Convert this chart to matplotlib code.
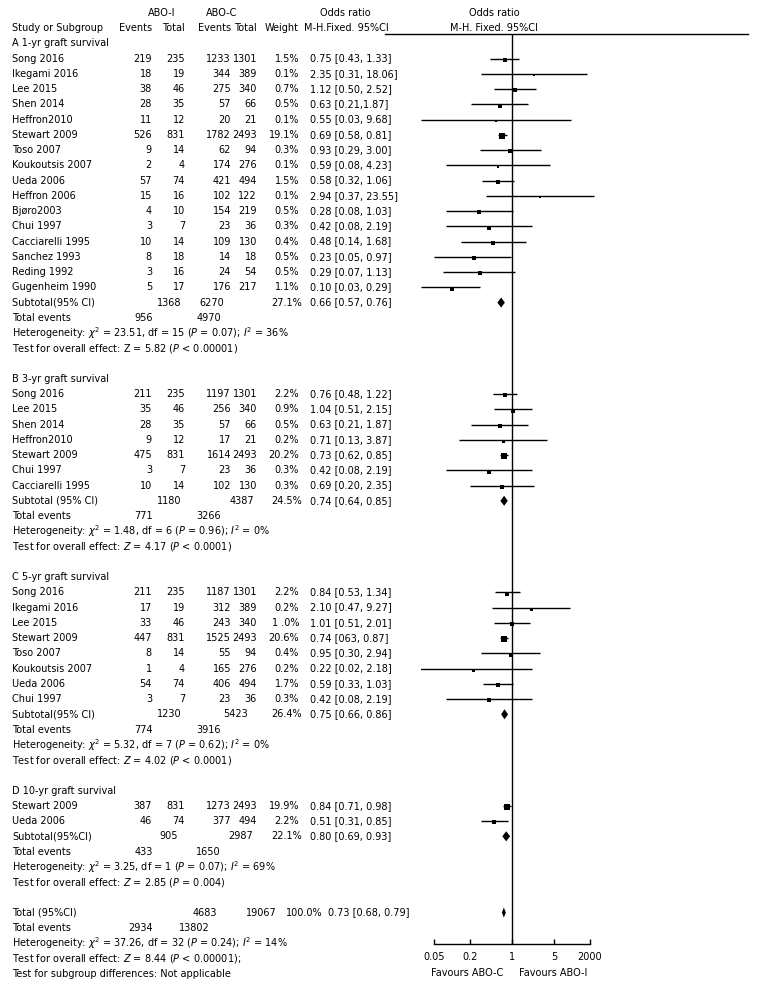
"""
Forest plot: ABO-incompatible vs ABO-compatible graft survival
"""

import matplotlib

matplotlib.use("Agg")
import matplotlib.pyplot as plt
from matplotlib.lines import Line2D
from matplotlib.ticker import NullLocator
from matplotlib.transforms import blended_transform_factory

plt.rcParams["font.family"] = ["DejaVu Sans"]
plt.rcParams["mathtext.fontset"] = "dejavusans"
FS = 7.0

# ---- A 1-yr graft survival ----
a_names = ["Song 2016", "Ikegami 2016", "Lee 2015", "Shen 2014", "Heffron2010",
           "Stewart 2009", "Toso 2007", "Koukoutsis 2007", "Ueda 2006",
           "Heffron 2006", "Bjøro2003", "Chui 1997", "Cacciarelli 1995",
           "Sanchez 1993", "Reding 1992", "Gugenheim 1990"]
a_ev_i = [219, 18, 38, 28, 11, 526, 9, 2, 57, 15, 4, 3, 10, 8, 3, 5]
a_tot_i = [235, 19, 46, 35, 12, 831, 14, 4, 74, 16, 10, 7, 14, 18, 16, 17]
a_ev_c = [1233, 344, 275, 57, 20, 1782, 62, 174, 421, 102, 154, 23, 109, 14, 24, 176]
a_tot_c = [1301, 389, 340, 66, 21, 2493, 94, 276, 494, 122, 219, 36, 130, 18, 54, 217]
a_weight = [1.5, 0.1, 0.7, 0.5, 0.1, 19.1, 0.3, 0.1, 1.5, 0.1, 0.5, 0.3, 0.4, 0.5, 0.5, 1.1]
a_or = [0.75, 2.35, 1.12, 0.63, 0.55, 0.69, 0.93, 0.59, 0.58, 2.94, 0.28, 0.42, 0.48, 0.23, 0.29, 0.10]
a_lo = [0.43, 0.31, 0.50, 0.21, 0.03, 0.58, 0.29, 0.08, 0.32, 0.37, 0.08, 0.08, 0.14, 0.05, 0.07, 0.03]
a_hi = [1.33, 18.06, 2.52, 1.87, 9.68, 0.81, 3.00, 4.23, 1.06, 23.55, 1.03, 2.19, 1.68, 0.97, 1.13, 0.29]
a_w_txt = ["1.5%", "0.1%", "0.7%", "0.5%", "0.1%", "19.1%", "0.3%", "0.1%", "1.5%",
           "0.1%", "0.5%", "0.3%", "0.4%", "0.5%", "0.5%", "1.1%"]
a_ci_txt = ["0.75 [0.43, 1.33]", "2.35 [0.31, 18.06]", "1.12 [0.50, 2.52]",
            "0.63 [0.21,1.87]", "0.55 [0.03, 9.68]", "0.69 [0.58, 0.81]",
            "0.93 [0.29, 3.00]", "0.59 [0.08, 4.23]", "0.58 [0.32, 1.06]",
            "2.94 [0.37, 23.55]", "0.28 [0.08, 1.03]", "0.42 [0.08, 2.19]",
            "0.48 [0.14, 1.68]", "0.23 [0.05, 0.97]", "0.29 [0.07, 1.13]",
            "0.10 [0.03, 0.29]"]

# ---- B 3-yr graft survival ----
b_names = ["Song 2016", "Lee 2015", "Shen 2014", "Heffron2010", "Stewart 2009",
           "Chui 1997", "Cacciarelli 1995"]
b_ev_i = [211, 35, 28, 9, 475, 3, 10]
b_tot_i = [235, 46, 35, 12, 831, 7, 14]
b_ev_c = [1197, 256, 57, 17, 1614, 23, 102]
b_tot_c = [1301, 340, 66, 21, 2493, 36, 130]
b_weight = [2.2, 0.9, 0.5, 0.2, 20.2, 0.3, 0.3]
b_or = [0.76, 1.04, 0.63, 0.71, 0.73, 0.42, 0.69]
b_lo = [0.48, 0.51, 0.21, 0.13, 0.62, 0.08, 0.20]
b_hi = [1.22, 2.15, 1.87, 3.87, 0.85, 2.19, 2.35]
b_w_txt = ["2.2%", "0.9%", "0.5%", "0.2%", "20.2%", "0.3%", "0.3%"]
b_ci_txt = ["0.76 [0.48, 1.22]", "1.04 [0.51, 2.15]", "0.63 [0.21, 1.87]",
            "0.71 [0.13, 3.87]", "0.73 [0.62, 0.85]", "0.42 [0.08, 2.19]",
            "0.69 [0.20, 2.35]"]

# ---- C 5-yr graft survival ----
c_names = ["Song 2016", "Ikegami 2016", "Lee 2015", "Stewart 2009", "Toso 2007",
           "Koukoutsis 2007", "Ueda 2006", "Chui 1997"]
c_ev_i = [211, 17, 33, 447, 8, 1, 54, 3]
c_tot_i = [235, 19, 46, 831, 14, 4, 74, 7]
c_ev_c = [1187, 312, 243, 1525, 55, 165, 406, 23]
c_tot_c = [1301, 389, 340, 2493, 94, 276, 494, 36]
c_weight = [2.2, 0.2, 1.0, 20.6, 0.4, 0.2, 1.7, 0.3]
c_or = [0.84, 2.10, 1.01, 0.74, 0.95, 0.22, 0.59, 0.42]
c_lo = [0.53, 0.47, 0.51, 0.63, 0.30, 0.02, 0.33, 0.08]
c_hi = [1.34, 9.27, 2.01, 0.87, 2.94, 2.18, 1.03, 2.19]
c_w_txt = ["2.2%", "0.2%", "1 .0%", "20.6%", "0.4%", "0.2%", "1.7%", "0.3%"]
c_ci_txt = ["0.84 [0.53, 1.34]", "2.10 [0.47, 9.27]", "1.01 [0.51, 2.01]",
            "0.74 [063, 0.87]", "0.95 [0.30, 2.94]", "0.22 [0.02, 2.18]",
            "0.59 [0.33, 1.03]", "0.42 [0.08, 2.19]"]

# ---- D 10-yr graft survival ----
d_names = ["Stewart 2009", "Ueda 2006"]
d_ev_i = [387, 46]
d_tot_i = [831, 74]
d_ev_c = [1273, 377]
d_tot_c = [2493, 494]
d_weight = [19.9, 2.2]
d_or = [0.84, 0.51]
d_lo = [0.71, 0.31]
d_hi = [0.98, 0.85]
d_w_txt = ["19.9%", "2.2%"]
d_ci_txt = ["0.84 [0.71, 0.98]", "0.51 [0.31, 0.85]"]

# ---- subtotals (A, B, C, D, overall) ----
group_titles = ["A 1-yr graft survival", "B 3-yr graft survival",
                "C 5-yr graft survival", "D 10-yr graft survival"]
sub_labels = ["Subtotal(95% CI)", "Subtotal (95% CI)", "Subtotal(95% CI)",
              "Subtotal(95%CI)", "Total (95%CI)"]
sub_tot_i = [1368, 1180, 1230, 905, 4683]
sub_tot_c = [6270, 4387, 5423, 2987, 19067]
sub_w_txt = ["27.1%", "24.5%", "26.4%", "22.1%", "100.0%"]
sub_or = [0.66, 0.74, 0.75, 0.80, 0.73]
sub_lo = [0.57, 0.64, 0.66, 0.69, 0.68]
sub_hi = [0.76, 0.85, 0.86, 0.93, 0.79]
sub_ci_txt = ["0.66 [0.57, 0.76]", "0.74 [0.64, 0.85]", "0.75 [0.66, 0.86]",
              "0.80 [0.69, 0.93]", "0.73 [0.68, 0.79]"]
sub_ev_i = [956, 771, 774, 433, 2934]
sub_ev_c = [4970, 3266, 3916, 1650, 13802]
het_txt = [
    r"Heterogeneity: $\chi^2$ = 23.51, df = 15 ($P$ = 0.07); $I^2$ = 36%",
    r"Heterogeneity: $\chi^2$ = 1.48, df = 6 ($P$ = 0.96); $I^2$ = 0%",
    r"Heterogeneity: $\chi^2$ = 5.32, df = 7 ($P$ = 0.62); $I^2$ = 0%",
    r"Heterogeneity: $\chi^2$ = 3.25, df = 1 ($P$ = 0.07); $I^2$ = 69%",
    r"Heterogeneity: $\chi^2$ = 37.26, df = 32 ($P$ = 0.24); $I^2$ = 14%",
]
effect_txt = [
    r"Test for overall effect: Z = 5.82 ($P$ < 0.00001)",
    r"Test for overall effect: $Z$ = 4.17 ($P$ < 0.0001)",
    r"Test for overall effect: $Z$ = 4.02 ($P$ < 0.0001)",
    r"Test for overall effect: $Z$ = 2.85 ($P$ = 0.004)",
    r"Test for overall effect: $Z$ = 8.44 ($P$ < 0.00001);",
]
subgroup_txt = "Test for subgroup differences: Not applicable"

tick_vals = [0.05, 0.2, 1, 5, 20]
tick_labels = ["0.05", "0.2", "1", "5", "2000"]

# ---- layout (pixels) ----
W, H = 768, 985
ROW0, PITCH = 43.3, 15.25
X_ONE, DECADE = 512, 60
AX_L, AX_R, AX_T, AX_B = 421, 600, 34, 944

fig = plt.figure(figsize=(W / 100, H / 100), dpi=100)
fig.patch.set_facecolor("white")
ax = fig.add_axes([AX_L / W, 1 - AX_B / H, (AX_R - AX_L) / W, (AX_B - AX_T) / H])
ax.set_xscale("log")
ax.set_xlim(10 ** ((AX_L - X_ONE) / DECADE), 10 ** ((AX_R - X_ONE) / DECADE))
ax.set_ylim((AX_B - ROW0) / PITCH, (AX_T - ROW0) / PITCH)
ax.patch.set_alpha(0)
for s in ["left", "right", "top"]:
    ax.spines[s].set_visible(False)
ax.spines["bottom"].set_bounds(tick_vals[0], tick_vals[-1])
ax.spines["bottom"].set_linewidth(1)
ax.set_yticks([])
ax.set_xticks(tick_vals)
ax.set_xticklabels(tick_labels)
ax.xaxis.set_minor_locator(NullLocator())
ax.tick_params(axis="x", direction="in", length=3.5, width=1, pad=6, labelsize=FS)
ax.axvline(1, color="black", lw=1)

tr = blended_transform_factory(fig.transFigure, ax.transData)


def put(xpx, row, s, ha="left"):
    fig.text(xpx / W, row, s, transform=tr, ha=ha, va="center", fontsize=FS)


def fill_diamond(row, o, lo, hi):
    h = 0.33
    ax.fill([lo, o, hi, o], [row, row - h, row, row + h], color="black", lw=0)


# header
put(162, -2, "ABO-I", ha="center")
put(222, -2, "ABO-C", ha="center")
put(345, -2, "Odds ratio", ha="center")
put(494, -2, "Odds ratio", ha="center")
put(12, -1, "Study or Subgroup")
put(152, -1, "Events", ha="right")
put(185, -1, "Total", ha="right")
put(231, -1, "Events", ha="right")
put(257, -1, "Total", ha="right")
put(299, -1, "Weight", ha="right")
put(304, -1, "M-H.Fixed. 95%CI")
put(494, -1, "M-H. Fixed. 95%CI", ha="center")
fig.add_artist(Line2D([385 / W, 748 / W], [1 - AX_T / H] * 2, color="black", lw=1))

groups = [
    (a_names, a_ev_i, a_tot_i, a_ev_c, a_tot_c, a_weight, a_or, a_lo, a_hi, a_w_txt, a_ci_txt),
    (b_names, b_ev_i, b_tot_i, b_ev_c, b_tot_c, b_weight, b_or, b_lo, b_hi, b_w_txt, b_ci_txt),
    (c_names, c_ev_i, c_tot_i, c_ev_c, c_tot_c, c_weight, c_or, c_lo, c_hi, c_w_txt, c_ci_txt),
    (d_names, d_ev_i, d_tot_i, d_ev_c, d_tot_c, d_weight, d_or, d_lo, d_hi, d_w_txt, d_ci_txt),
]
# right edge of subtotal ABO-C total per group
sub_c_x = [224, 254, 248, 253]

r0 = 0
for g, (names, ev_i, tot_i, ev_c, tot_c, wts, ors, los, his, w_txt, ci_txt) in enumerate(groups):
    put(12, r0, group_titles[g])
    for k, name in enumerate(names):
        r = r0 + 1 + k
        put(12, r, name)
        put(152, r, str(ev_i[k]), ha="right")
        put(185, r, str(tot_i[k]), ha="right")
        put(231, r, str(ev_c[k]), ha="right")
        put(257, r, str(tot_c[k]), ha="right")
        put(299, r, w_txt[k], ha="right")
        put(310, r, ci_txt[k])
        ax.plot([los[k], his[k]], [r, r], color="black", lw=1, solid_capstyle="butt")
        size = 2.6 + 4 * (wts[k] / 20) ** 0.5
        ax.plot(ors[k], r + 0.08, marker="s", ms=size * 0.72, color="black", mew=0)
    r = r0 + len(names) + 1
    put(12, r, sub_labels[g])
    put(169, r, str(sub_tot_i[g]), ha="center")
    put(sub_c_x[g], r, str(sub_tot_c[g]), ha="right")
    put(302, r, sub_w_txt[g], ha="right")
    put(310, r, sub_ci_txt[g])
    fill_diamond(r, sub_or[g], sub_lo[g], sub_hi[g])
    put(12, r + 1, "Total events")
    put(153, r + 1, str(sub_ev_i[g]), ha="right")
    put(221, r + 1, str(sub_ev_c[g]), ha="right")
    put(12, r + 2, het_txt[g])
    put(12, r + 3, effect_txt[g])
    r0 = r + 5

# overall
put(12, r0, sub_labels[4])
put(217, r0, str(sub_tot_i[4]), ha="right")
put(277, r0, str(sub_tot_c[4]), ha="right")
put(323, r0, sub_w_txt[4], ha="right")
put(328, r0, sub_ci_txt[4])
fill_diamond(r0, sub_or[4], sub_lo[4], sub_hi[4])
put(12, r0 + 1, "Total events")
put(153, r0 + 1, str(sub_ev_i[4]), ha="right")
put(210, r0 + 1, str(sub_ev_c[4]), ha="right")
put(12, r0 + 2, het_txt[4])
put(12, r0 + 3, effect_txt[4])
put(12, r0 + 4, subgroup_txt)

fig.text(467 / W, 1 - 973 / H, "Favours ABO-C", ha="center", va="center", fontsize=FS)
fig.text(553 / W, 1 - 973 / H, "Favours ABO-I", ha="center", va="center", fontsize=FS)

fig.savefig("out.png", dpi=100, facecolor="white")
